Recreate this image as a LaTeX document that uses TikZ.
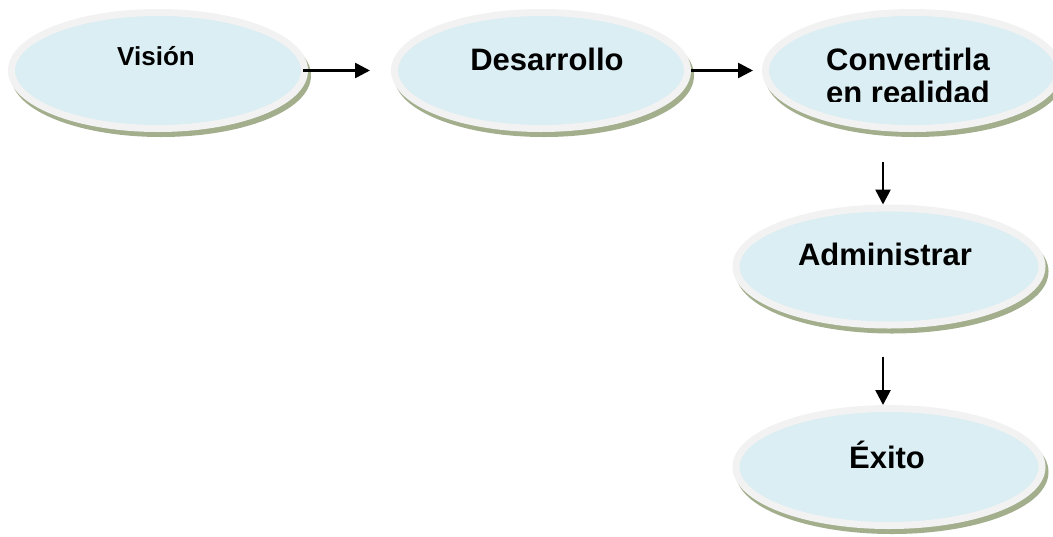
\documentclass[tikz,border=0pt]{standalone}
\usepackage{fontspec}
\setmainfont{Liberation Sans}
\usetikzlibrary{shapes.geometric,arrows.meta}
\definecolor{rimgray}{HTML}{F2F2F2}
\definecolor{paleblue}{HTML}{DAEEF3}
\definecolor{shadowolive}{HTML}{A3AE8D}

\begin{document}
\begin{tikzpicture}[x=0.5pt, y=-0.5pt, >={Triangle[length=7.5pt,width=7.5pt]},
  disc/.style={ellipse, draw=rimgray, line width=3.5pt, fill=paleblue, inner sep=0pt,
    minimum width=146.5pt, minimum height=58pt,
    preaction={draw=shadowolive, fill=shadowolive, transform canvas={xshift=1.5pt,yshift=-2.5pt}}},
  bigdisc/.style={disc, minimum width=153pt, minimum height=58.5pt},
  lbl/.style={font=\bfseries\fontsize{15.5}{16.5}\selectfont, inner sep=0pt, anchor=base, align=center},
  flow/.style={->, line width=1.3pt}]
  \clip (0,0) rectangle (1053,536);
  \node[disc] (vision) at (158,70.5) {};
  \node[disc] (desa) at (541,70.5) {};
  \node[disc] (conv) at (912,70.5) {};
  \node[bigdisc] (adm) at (889,266.5) {};
  \node[bigdisc] (exito) at (889,467) {};
  \node[lbl, font=\bfseries\fontsize{13}{15}\selectfont] (vision-t) at (156,65) {Visión};
  \node[lbl] (desa-t) at (547,70) {Desarrollo};
  % second line is cut at the bottom
  \begin{scope}
    \clip (760,0) rectangle (1053,101);
    \node[lbl] (conv-t) at (908,103) {Convertirla\\ en realidad};
  \end{scope}
  \node[lbl] (adm-t) at (885,265) {Administrar};
  \node[lbl] (exito-t) at (887,468) {Éxito};
  \draw[flow, shorten <=-2.5pt, shorten >=10.5pt] (vision.east) -- (desa.west);
  \draw[flow, shorten >=4.5pt] (desa.east) -- (conv.west);
  \draw[flow, shorten <=15pt, transform canvas={xshift=-3pt}] (conv.south -| adm.north) -- (adm.north);
  \draw[flow, shorten <=14pt, transform canvas={xshift=-3pt}] (adm.south) -- (exito.north);
\end{tikzpicture}
\end{document}
